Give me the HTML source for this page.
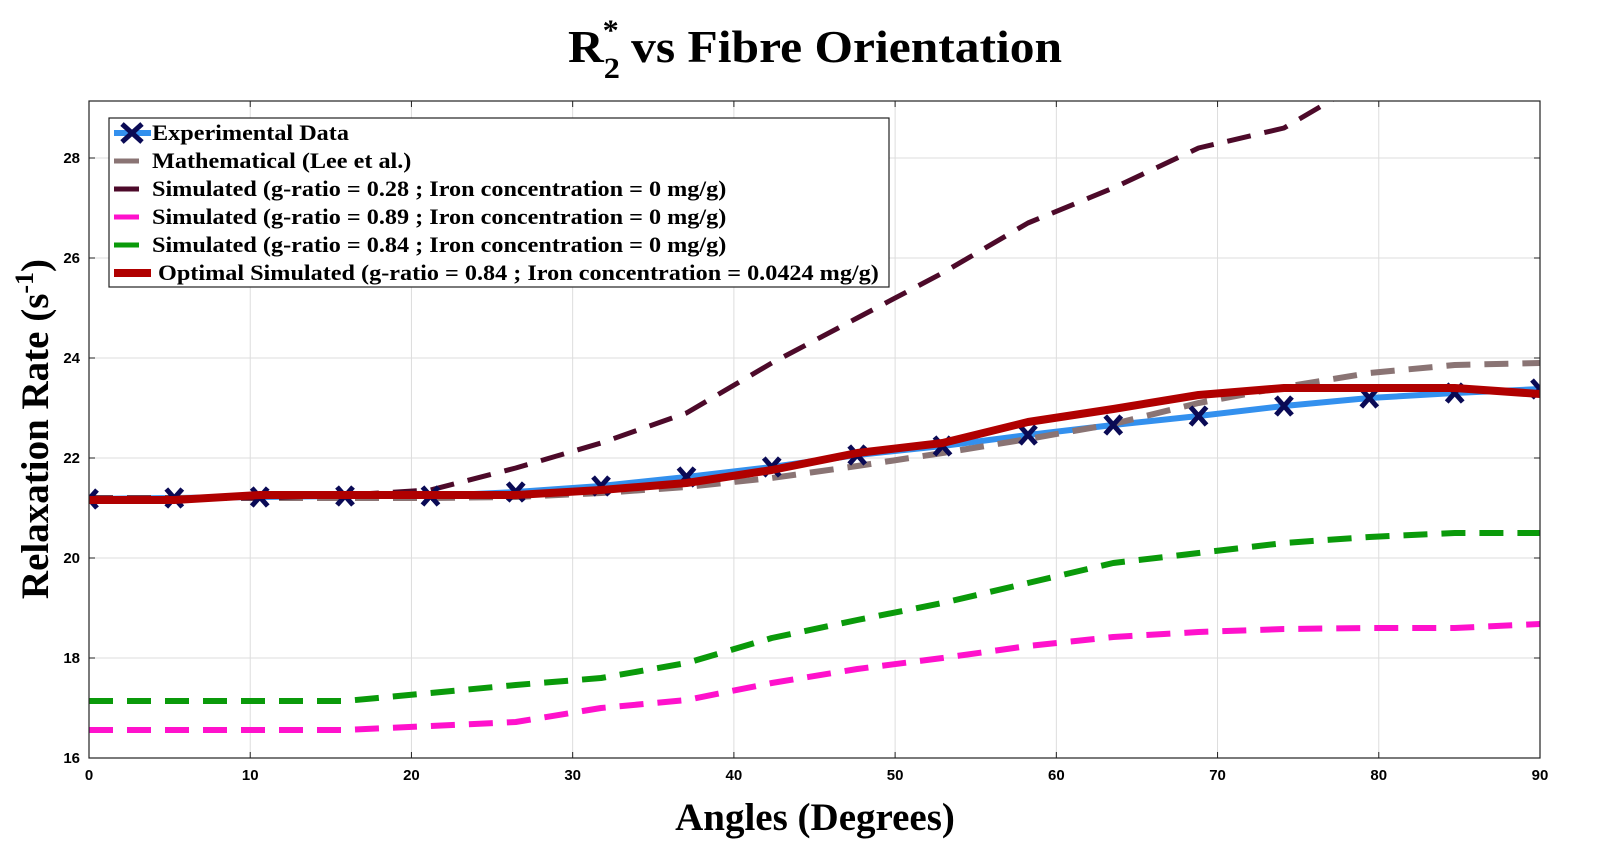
<!DOCTYPE html>
<html><head><meta charset="utf-8"><style>
body{margin:0;background:#fff;}
svg text{font-family:"Liberation Serif",serif;font-weight:bold;}
.tick{font-family:"Liberation Sans",sans-serif !important;font-size:15px;}
</style></head><body>
<svg id="chart" width="1608" height="861" xmlns="http://www.w3.org/2000/svg">
<defs><clipPath id="clip"><rect x="89" y="101" width="1451" height="657"/></clipPath></defs>
<rect x="89" y="101" width="1451" height="657" fill="#fff" stroke="none"/>
<g id="grid"></g>
<g id="series" clip-path="url(#clip)"></g>
<rect x="89" y="101" width="1451" height="657" fill="none" stroke="#222" stroke-width="1.2"/>
<g id="ticks"></g>
<text id="title" x="815" y="62" text-anchor="middle" font-size="46">R<tspan font-size="30" dy="16">2</tspan><tspan font-size="30" dx="-16" dy="-38">*</tspan><tspan font-size="46" dy="22"> vs Fibre Orientation</tspan></text>
<text x="815" y="830" text-anchor="middle" font-size="39">Angles (Degrees)</text>
<text transform="translate(48,429) rotate(-90)" text-anchor="middle" font-size="39">Relaxation Rate (s<tspan font-size="26" dy="-15">-1</tspan><tspan dy="15">)</tspan></text>
<g id="legend"></g>
</svg>
<script>
const angles=[0,5.29,10.59,15.88,21.18,26.47,31.76,37.06,42.35,47.65,52.94,58.24,63.53,68.82,74.12,79.41,84.71,90];
const experimental=[21.18,21.2,21.22,21.24,21.24,21.32,21.44,21.62,21.82,22.06,22.24,22.46,22.66,22.84,23.04,23.2,23.3,23.38];
const mathematical=[21.2,21.2,21.2,21.2,21.2,21.22,21.3,21.42,21.6,21.84,22.1,22.38,22.68,23.1,23.42,23.7,23.86,23.9];
const sim028=[21.2,21.2,21.2,21.26,21.36,21.8,22.3,22.9,23.9,24.8,25.7,26.7,27.4,28.2,28.6,29.6,30.6,31.5];
const sim089=[16.56,16.56,16.56,16.56,16.64,16.72,17.0,17.16,17.5,17.78,18.0,18.24,18.42,18.52,18.58,18.6,18.6,18.68];
const sim084=[17.14,17.14,17.14,17.14,17.3,17.46,17.6,17.9,18.4,18.76,19.1,19.5,19.9,20.1,20.3,20.42,20.5,20.5];
const optimal=[21.16,21.16,21.26,21.26,21.26,21.26,21.36,21.5,21.76,22.1,22.3,22.72,22.98,23.26,23.4,23.4,23.4,23.28];
const xTicks=[0,10,20,30,40,50,60,70,80,90];
const yTicks=[16,18,20,22,24,26,28];
const legendLabels=["Experimental Data","Mathematical (Lee et al.)","Simulated (g-ratio = 0.28 ; Iron concentration = 0 mg/g)","Simulated (g-ratio = 0.89 ; Iron concentration = 0 mg/g)","Simulated (g-ratio = 0.84 ; Iron concentration = 0 mg/g)","Optimal Simulated (g-ratio = 0.84 ; Iron concentration = 0.0424 mg/g)"];
const NS="http://www.w3.org/2000/svg";
const X=v=>89+v*(1451/90);
const Y=v=>758-(v-16)*50;
function mk(tag,attrs,parent){const e=document.createElementNS(NS,tag);for(const k in attrs)e.setAttribute(k,attrs[k]);parent.appendChild(e);return e;}
const grid=document.getElementById('grid'),ticks=document.getElementById('ticks'),ser=document.getElementById('series'),leg=document.getElementById('legend');
xTicks.forEach(t=>{
 const l=mk('line',{x1:X(t),x2:X(t),y1:101,y2:758,stroke:'#ddd','stroke-width':1},grid);
 
 
 mk('line',{x1:X(t),x2:X(t),y1:758,y2:752,stroke:'#222'},ticks);
 mk('line',{x1:X(t),x2:X(t),y1:101,y2:107,stroke:'#222'},ticks);
 const tx=mk('text',{x:X(t),y:780,'text-anchor':'middle',class:'tick'},ticks);tx.textContent=t;
 
 
});
yTicks.forEach(t=>{
 const l=mk('line',{x1:89,x2:1540,y1:Y(t),y2:Y(t),stroke:'#ddd','stroke-width':1},grid);
 
 
 mk('line',{x1:89,x2:95,y1:Y(t),y2:Y(t),stroke:'#222'},ticks);
 mk('line',{x1:1540,x2:1534,y1:Y(t),y2:Y(t),stroke:'#222'},ticks);
 const tx=mk('text',{x:80,y:Y(t)+5,'text-anchor':'end',class:'tick'},ticks);tx.textContent=t;
 
 
});
function line(vals,color,w,dash,name){
 const p=mk('polyline',{points:vals.map((v,i)=>X(angles[i])+','+Y(v)).join(' '),fill:'none',stroke:color,'stroke-width':w,'stroke-dasharray':dash||'none','stroke-linejoin':'round'},ser);
 
 
}
line(sim084,'#0a9a0a',6,'24 14','series-sim-g084');
line(sim089,'#ff11cc',6,'24 14','series-sim-g089');
line(experimental,'#3390ee',6,null,'series-experimental');
line(mathematical,'#8a7474',6,'24 14','series-mathematical');
line(sim028,'#4d0a2a',5,'24 14','series-sim-g028');
experimental.forEach((v,i)=>{
 const x=X(angles[i]),y=Y(v),g=mk('g',{},ser);
 
 
 mk('path',{d:`M${x-8} ${y-9}L${x+8} ${y+9}M${x+8} ${y-9}L${x-8} ${y+9}`,stroke:'#0a0a55','stroke-width':5},g);
});
line(optimal,'#b00000',8,null,'series-optimal');
// legend
const box=mk('rect',{x:109,y:118,width:780,height:169,fill:'#fff',stroke:'#222','stroke-width':1.2},leg);


const lc=[['#3390ee',6],['#8a7474',5],['#4d0a2a',5],['#ff11cc',5],['#0a9a0a',5],['#b00000',8]];
legendLabels.forEach((t,i)=>{
 const y=133+i*28,g=mk('g',{},leg);
 
 
 const x2=(i===0||i===5)?151:139;
 mk('line',{x1:114,x2:x2,y1:y,y2:y,stroke:lc[i][0],'stroke-width':lc[i][1]},g);
 if(i===0)mk('path',{d:'M122 124L142 142M142 124L122 142',stroke:'#0a0a55','stroke-width':5},g);
 const tx=mk('text',{x:i===5?158:152,y:y+7,'font-size':22},g);tx.textContent=t;
 const len=tx.getComputedTextLength();
 if(len>0){tx.setAttribute('textLength',len*1.1);tx.setAttribute('lengthAdjust','spacingAndGlyphs');}
});
const ttl=document.getElementById('title');
const tl=ttl.getComputedTextLength();
if(tl>0){ttl.setAttribute('textLength',tl*1.04);ttl.setAttribute('lengthAdjust','spacingAndGlyphs');}
</script>
</body></html>
